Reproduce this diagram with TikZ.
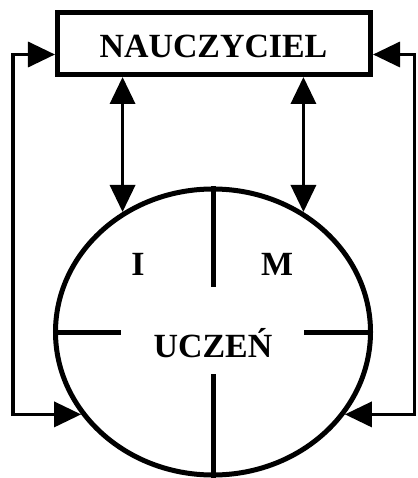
\documentclass[tikz,border=0pt]{standalone}
\usepackage{fontspec}
\setmainfont{Liberation Serif}
\usetikzlibrary{shapes.geometric,arrows.meta}

\begin{document}
\begin{tikzpicture}[x=1bp, y=-1bp,
    gruba/.style={line width=5bp},
    strzalka/.style={line width=3.5bp, {Triangle[length=27bp,width=25bp]}-{Triangle[length=27bp,width=25bp]}},
    napis/.style={font=\fontsize{34}{36}\selectfont\bfseries}]
\useasboundingbox (0,0) rectangle (417,478);

% Nauczyciel i uczen
\node[gruba, draw, minimum width=313bp, minimum height=62bp, inner sep=0pt] (nauczyciel) at (214,43.5) {};
\node[napis, anchor=base] (nauczyciel-txt) at (213.5,58) {NAUCZYCIEL};
\node[gruba, draw, ellipse, minimum width=315bp, minimum height=286bp, inner sep=0pt] (uczen) at (213,332) {};
\node[napis, anchor=base] (uczen-txt) at (213,357) {UCZEŃ};
\node[napis, anchor=base] (I) at (138,275) {I};
\node[napis, anchor=base] (M) at (277,275) {M};

% Podzial kola
\foreach \kotwica/\krok in {north/{0,100}, south/{0,-104}, west/{68,0}, east/{-69,0}}{
    \draw[gruba] (uczen.\kotwica) -- ++(\krok);
}

% Strzalki pionowe
\foreach \k in {127,53}{
    \draw[strzalka] (uczen.\k) -- (uczen.\k |- nauczyciel.south);
}

% Sprzezenie zwrotne
\coordinate (lewy) at (13,413);
\coordinate (prawy) at (414.5,413);
\draw[strzalka] ([yshift=-11bp]nauczyciel.west) -| (lewy) |- (uczen.212);
\draw[strzalka] ([yshift=-11bp]nauczyciel.east) -| (prawy) |- (uczen.328);

\end{tikzpicture}
\end{document}
